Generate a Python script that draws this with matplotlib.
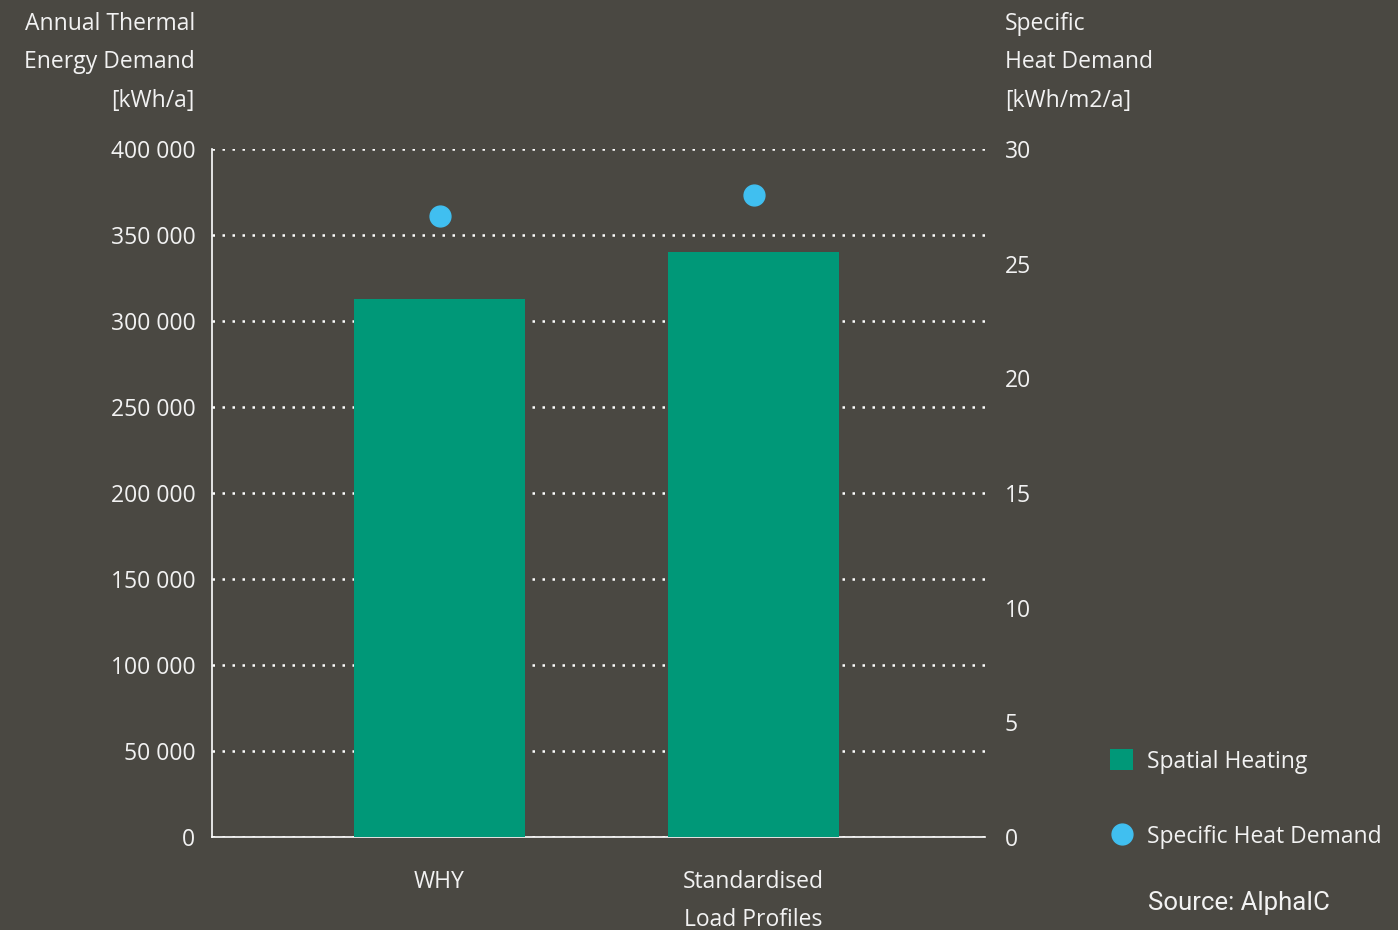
import matplotlib.pyplot as plt
from matplotlib.ticker import FuncFormatter

# data
categories = ['WHY', 'Standardised\nLoad Profiles']
spatial_heating = [313000, 340000]        # kWh/a
specific_demand = [27.1, 28.0]            # kWh/m2/a

bg = '#4a4842'
fg = '#f2f2f2'
green = '#009878'
blue = '#40bff0'

plt.rcParams['font.family'] = ['Open Sans', 'DejaVu Sans']
fs = 16.5

fig = plt.figure(figsize=(13.98, 9.30), dpi=100, facecolor=bg)
ax = fig.add_axes([212/1398, 93/930, 773/1398, 688/930])
ax.set_facecolor(bg)

x = list(range(len(categories)))
bars = ax.bar(x, spatial_heating, width=0.545, color=green, zorder=3, label='Spatial Heating')
ax.set_xlim(-0.7245, 1.737)
ax.set_ylim(0, 400000)
ax.set_yticks(range(0, 400001, 50000))
ax.yaxis.set_major_formatter(FuncFormatter(lambda v, p: f"{v:,.0f}".replace(',', ' ')))
ax.set_xticks(x)
ax.set_xticklabels(categories, linespacing=1.75)
ax.tick_params(axis='both', length=0, colors=fg, labelsize=fs)
ax.tick_params(axis='y', pad=12)
ax.tick_params(axis='x', pad=24)
ax.grid(axis='y', color='white', linestyle=(0, (1, 3)), linewidth=1.8, zorder=1)
for s in ['top', 'right']:
    ax.spines[s].set_visible(False)
for s in ['left', 'bottom']:
    ax.spines[s].set_color('white')
    ax.spines[s].set_linewidth(1.2)

ax2 = ax.twinx()
line, = ax2.plot(x, specific_demand, linestyle='none', marker='o', markersize=15,
                 color=blue, label='Specific Heat Demand', zorder=4)
ax2.set_ylim(0, 30)
ax2.set_yticks(range(0, 31, 5))
ax2.tick_params(axis='y', length=0, colors=fg, labelsize=fs, pad=14)
for s in ax2.spines.values():
    s.set_visible(False)

# axis titles
fig.text(195/1398, 1 - 12/930, 'Annual Thermal\nEnergy Demand\n[kWh/a]', color=fg,
         ha='right', va='top', fontsize=fs, linespacing=1.8)
fig.text(1005/1398, 1 - 12/930, 'Specific\nHeat Demand\n[kWh/m2/a]', color=fg,
         ha='left', va='top', fontsize=fs, linespacing=1.8)

fig.legend(handles=[bars, line], loc='upper left', bbox_to_anchor=(1099/1398, 1 - 738/930),
           frameon=False, labelcolor=fg, fontsize=fs, handlelength=1.0, handleheight=1.0,
           labelspacing=2.25, handletextpad=0.6, borderpad=0)

fig.text(1148/1398, 1 - 903/930, 'Source: AlphaIC', color=fg, ha='left', va='center',
         fontsize=18.5, family=['Roboto', 'DejaVu Sans'])

fig.savefig('out.png', dpi=100, facecolor=bg)
